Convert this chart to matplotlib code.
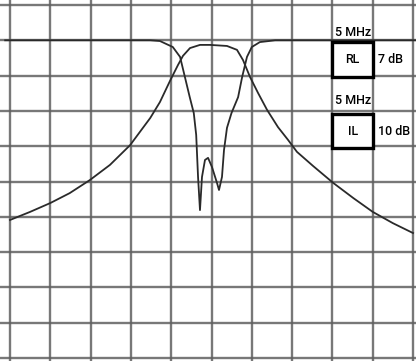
import matplotlib
matplotlib.use("Agg")
import matplotlib.pyplot as plt
from matplotlib.patches import Rectangle

# frequency offset from centre (MHz, 5 MHz/div) and level (dB, 10 dB/div)
il_freq = [-25.0, -22.5, -20.0, -17.6, -15.1, -12.6, -10.1, -8.9, -7.6, -6.4,
           -5.15, -4.16, -3.54, -2.67, -1.43, -0.19, 1.92, 3.16, 3.91, 4.78,
           5.77, 6.89, 8.25, 9.49, 10.6, 12.6, 15.1, 17.6, 20.0, 22.5, 25.0]
il_db = [-50.9, -48.6, -46.1, -43.3, -39.6, -35.3, -29.7, -26.0, -22.0, -17.5,
         -11.5, -7.0, -4.4, -2.2, -1.3, -1.3, -1.6, -2.7, -5.6, -10.4,
         -14.9, -19.7, -24.6, -28.2, -31.6, -35.6, -40.4, -44.7, -48.6, -51.8, -54.6]

rl_freq = [-25.6, -7.6, -6.4, -4.8, -3.9, -3.3, -2.7, -2.2, -1.9, -1.67, -1.43,
           -1.18, -0.81, -0.43, 0.06, 0.68, 0.93, 1.3, 1.55, 1.92, 2.48, 3.3,
           3.8, 4.4, 5.0, 6.0, 7.9, 25.4]
rl_db = [0.0, 0.0, -0.2, -1.9, -4.7, -10.4, -16.1, -20.6, -26.8, -38.7, -48.1,
         -38.7, -33.9, -33.3, -35.9, -40.4, -42.4, -38.7, -31.1, -24.8, -20.6, -16.1,
         -10.4, -4.7, -1.9, -0.5, 0.0, 0.0]

freq_ticks = list(range(-25, 30, 5))
db_ticks = list(range(-90, 20, 10))

fig = plt.figure(figsize=(4.16, 3.61), dpi=100)
ax = fig.add_axes([0, 0, 1, 1])
ax.set_xlim(-26.24, 25.37)
ax.set_ylim(-90.85, 11.42)

# grid
for f in freq_ticks:
    ax.axvline(f, color="#606060", lw=1.7, alpha=0.85, zorder=1)
for d in db_ticks:
    ax.axhline(d, color="#606060", lw=1.7, alpha=0.85, zorder=1)

ax.plot(rl_freq, rl_db, color="#2a2a2a", lw=1.3, zorder=3)
ax.plot(il_freq, il_db, color="#2a2a2a", lw=1.3, zorder=3)

# marker boxes
ax.add_patch(Rectangle((15, -10.5), 5, 10, facecolor="white", edgecolor="black",
                       lw=2.4, zorder=4))
ax.add_patch(Rectangle((15, -30.5), 5, 9.5, facecolor="white", edgecolor="black",
                       lw=2.4, zorder=4))

txt = dict(family=["Roboto", "DejaVu Sans"], fontstretch="condensed", fontweight="medium",
           fontsize=9, va="center", zorder=5)
ax.text(15.3, 2.3, "5 MHz", ha="left", **txt)
ax.text(17.5, -5.5, "RL", ha="center", **txt)
ax.text(20.7, -5.5, "7 dB", ha="left", **txt)
ax.text(15.3, -17.0, "5 MHz", ha="left", **txt)
ax.text(17.5, -25.7, "IL", ha="center", **txt)
ax.text(20.7, -25.7, "10 dB", ha="left", **txt)

ax.axis("off")
fig.savefig("out.png", dpi=100, facecolor="white")
